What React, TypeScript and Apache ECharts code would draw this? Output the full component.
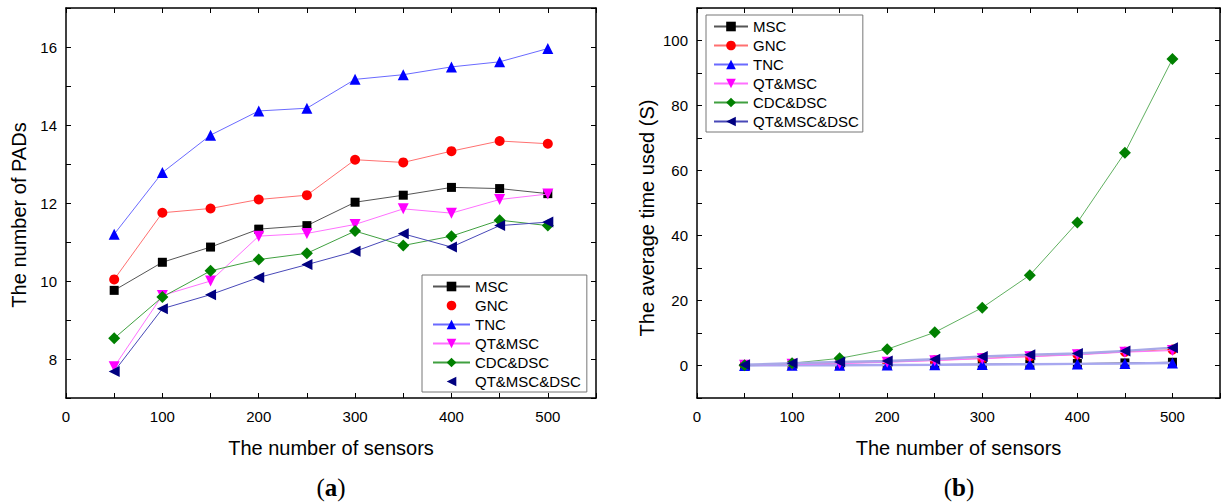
import React, { useEffect, useRef } from "react";
import * as echarts from "echarts";

const sensors = [50, 100, 150, 200, 250, 300, 350, 400, 450, 500];
const seriesNames = ["MSC", "GNC", "TNC", "QT&MSC", "CDC&DSC", "QT&MSC&DSC"];

// (a) number of PADs
const padsMSC = [9.76, 10.48, 10.87, 11.33, 11.42, 12.02, 12.2, 12.4, 12.37, 12.24];
const padsGNC = [10.04, 11.75, 11.86, 12.09, 12.2, 13.11, 13.04, 13.33, 13.59, 13.52];
const padsTNC = [11.2, 12.78, 13.74, 14.36, 14.43, 15.17, 15.29, 15.49, 15.62, 15.96];
const padsQTMSC = [7.8, 9.63, 10.0, 11.15, 11.22, 11.45, 11.85, 11.74, 12.09, 12.23];
const padsCDCDSC = [8.53, 9.59, 10.26, 10.55, 10.71, 11.28, 10.91, 11.15, 11.56, 11.42];
const padsQTMSCDSC = [7.68, 9.29, 9.65, 10.09, 10.42, 10.76, 11.21, 10.87, 11.42, 11.51];

// (b) average time used (S)
const timeMSC = [0.05, 0.1, 0.15, 0.2, 0.3, 0.4, 0.5, 0.6, 0.8, 1.0];
const timeGNC = [0.1, 0.4, 0.7, 1.1, 1.6, 2.2, 2.8, 3.4, 4.2, 4.9];
const timeTNC = [0.03, 0.06, 0.1, 0.15, 0.2, 0.3, 0.4, 0.5, 0.6, 0.8];
const timeQTMSC = [0.1, 0.35, 0.6, 1.0, 1.5, 2.1, 2.7, 3.3, 4.1, 4.6];
const timeCDCDSC = [0.1, 0.7, 2.2, 5.0, 10.2, 17.8, 27.8, 44.0, 65.5, 94.3];
const timeQTMSCDSC = [0.2, 0.7, 1.1, 1.4, 1.9, 2.8, 3.3, 3.7, 4.5, 5.5];

const FONT = "Liberation Sans, Arial, sans-serif";
const SERIF = "Liberation Serif, Times New Roman, serif";

const markerStyles = [
  { symbol: "rect", rotate: 0, color: "#000000", size: 9 },
  { symbol: "circle", rotate: 0, color: "#ff0000", size: 10 },
  { symbol: "triangle", rotate: 0, color: "#0000ff", size: 11 },
  { symbol: "triangle", rotate: 180, color: "#ff00ff", size: 11 },
  { symbol: "diamond", rotate: 0, color: "#008000", size: 12 },
  { symbol: "triangle", rotate: 90, color: "#000080", size: 11 },
];
const leftLineColors = ["#555555", "#ff7070", "#6a6aff", "#ff70ff", "#40a040", "#4848b8"];
const rightLineColors = ["#444444", "#ff8080", "#a8a8f0", "#ff70ff", "#60b060", "#a8a8e8"];
const rightLineWidths = [1, 1, 2.5, 1, 1, 2.5];

function mkSeries(data: number[][], axis: number, lineColors: string[], widths: number[]) {
  return data.map((vals, i) => ({
    name: seriesNames[i],
    type: "line",
    xAxisIndex: axis,
    yAxisIndex: axis,
    symbol: markerStyles[i].symbol,
    symbolRotate: markerStyles[i].rotate,
    symbolSize: markerStyles[i].size,
    showAllSymbol: true,
    itemStyle: { color: markerStyles[i].color },
    lineStyle: { color: lineColors[i], width: widths[i] },
    data: sensors.map((s, k) => [s, vals[k]]),
    z: 2 + i,
  }));
}

function xAxisPair(gridIndex: number) {
  const base = {
    type: "value",
    gridIndex,
    min: 0,
    max: 550,
    interval: 50,
    splitLine: { show: false },
    axisLine: { show: true, onZero: false, lineStyle: { color: "#000", width: 1.5 } },
    axisTick: { show: true, inside: true, length: 5, lineStyle: { color: "#000" } },
  };
  return [
    {
      ...base,
      position: "bottom",
      name: "The number of sensors",
      nameLocation: "middle",
      nameGap: 40,
      nameTextStyle: { fontFamily: FONT, fontSize: 20, color: "#000" },
      axisLabel: {
        fontFamily: FONT,
        fontSize: 15,
        color: "#000",
        margin: 11,
        formatter: (v: number) => (v % 100 === 0 && v <= 500 ? String(v) : ""),
      },
    },
    { ...base, position: "top", axisLabel: { show: false } },
  ];
}

function yAxisPair(gridIndex: number, min: number, max: number, interval: number, step: number, lo: number, hi: number) {
  const base = {
    type: "value",
    gridIndex,
    min,
    max,
    interval,
    splitLine: { show: false },
    axisLine: { show: true, onZero: false, lineStyle: { color: "#000", width: 1.5 } },
    axisTick: { show: true, inside: true, length: 5, lineStyle: { color: "#000" } },
  };
  return [
    {
      ...base,
      position: "left",
      axisLabel: {
        fontFamily: FONT,
        fontSize: 15,
        color: "#000",
        margin: 9,
        formatter: (v: number) => (Math.abs(v % step) < 1e-9 && v >= lo && v <= hi ? String(v) : ""),
      },
    },
    { ...base, position: "right", axisLabel: { show: false } },
  ];
}

export default function App() {
  const ref = useRef<HTMLDivElement>(null);
  useEffect(() => {
    if (!ref.current) return;
    const chart = echarts.init(ref.current, undefined, { renderer: "svg" });
    const leftData = [padsMSC, padsGNC, padsTNC, padsQTMSC, padsCDCDSC, padsQTMSCDSC];
    const rightData = [timeMSC, timeGNC, timeTNC, timeQTMSC, timeCDCDSC, timeQTMSCDSC];
    const legendBase = {
      orient: "vertical",
      itemHeight: 12,
      itemGap: 4,
      borderColor: "#777",
      borderWidth: 1,
      backgroundColor: "#fff",
      textStyle: { fontFamily: FONT, fontSize: 15, color: "#000" },
      symbolRotate: "inherit",
      selectedMode: false,
    };
    chart.setOption({
      animation: false,
      grid: [
        { left: 66, top: 8, width: 530, height: 390, containLabel: false },
        { left: 697, top: 8, width: 524, height: 390, containLabel: false },
      ],
      xAxis: [...xAxisPair(0), ...xAxisPair(1)],
      yAxis: [
        ...yAxisPair(0, 7, 17, 1, 2, 8, 16),
        ...yAxisPair(1, -10, 110, 10, 20, 0, 100),
      ],
      legend: [
        {
          ...legendBase,
          left: 422,
          top: 275,
          itemWidth: 37,
          padding: [4, 6, 3, 10],
          data: seriesNames.map((n, i) =>
            i === 1 || i === 5 ? { name: n, lineStyle: { opacity: 0 } } : { name: n }
          ),
        },
        {
          ...legendBase,
          left: 706,
          top: 15,
          itemWidth: 34,
          padding: [4, 4, 3, 7],
          data: seriesNames.map((n) => ({ name: n })),
        },
      ],
      series: [
        ...mkSeries(leftData, 0, leftLineColors, [1, 1, 1, 1, 1, 1]),
        ...mkSeries(rightData, 2, rightLineColors, rightLineWidths),
      ],
      graphic: [
        {
          type: "text",
          x: 19,
          y: 215,
          rotation: Math.PI / 2,
          style: {
            text: "The number of PADs",
            font: `20px ${FONT}`,
            fill: "#000",
            align: "center",
            verticalAlign: "middle",
          },
        },
        {
          type: "text",
          x: 647,
          y: 218,
          rotation: Math.PI / 2,
          style: {
            text: "The average time used (S)",
            font: `20px ${FONT}`,
            fill: "#000",
            align: "center",
            verticalAlign: "middle",
          },
        },
        {
          type: "text",
          x: 331,
          y: 487,
          style: {
            text: "({b|a})",
            rich: { b: { fontWeight: "bold", fontSize: 25, fontFamily: SERIF } },
            font: `25px ${SERIF}`,
            fill: "#000",
            align: "center",
            verticalAlign: "middle",
          },
        },
        {
          type: "text",
          x: 959,
          y: 487,
          style: {
            text: "({b|b})",
            rich: { b: { fontWeight: "bold", fontSize: 25, fontFamily: SERIF } },
            font: `25px ${SERIF}`,
            fill: "#000",
            align: "center",
            verticalAlign: "middle",
          },
        },
      ],
    });
    return () => chart.dispose();
  }, []);
  return (
    <div
      ref={ref}
      style={{ position: "fixed", left: 0, top: 0, width: 1223, height: 503, background: "#fff" }}
    />
  );
}
